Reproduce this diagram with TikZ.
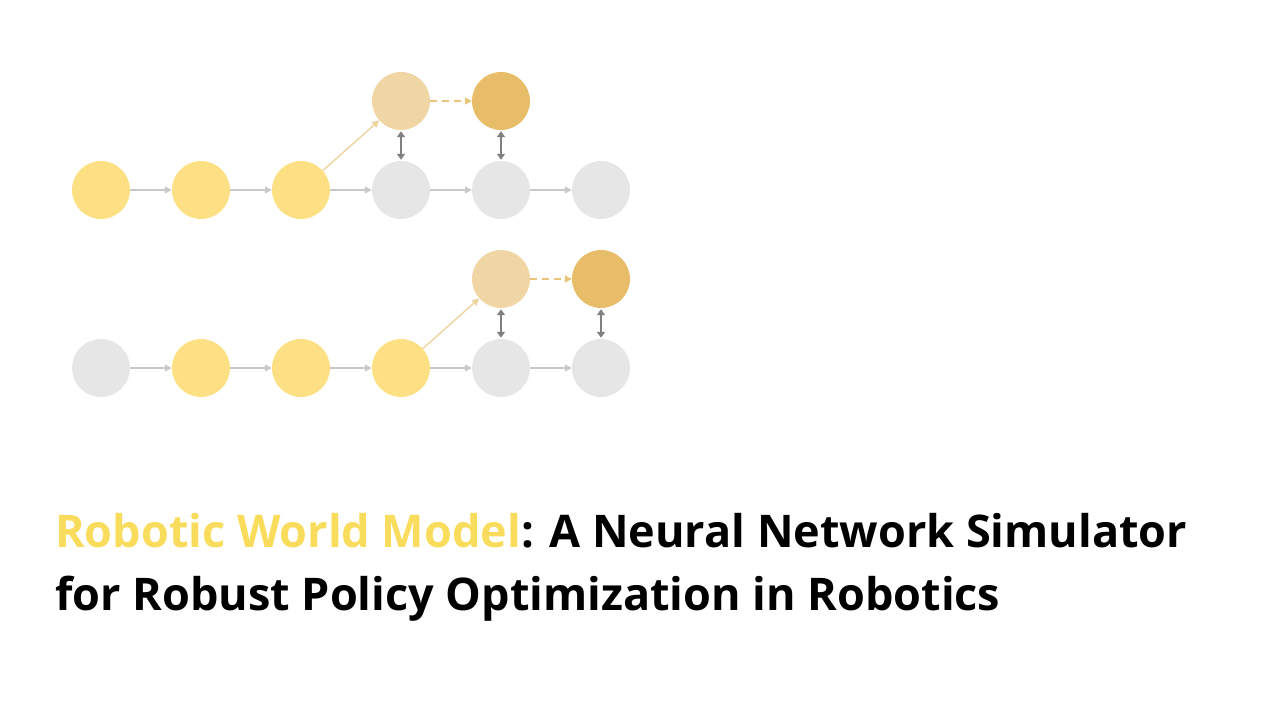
\documentclass[tikz,border=0pt]{standalone}
\usepackage{fontspec}
\setmainfont{Open Sans}
\usetikzlibrary{arrows.meta}
\definecolor{ny}{HTML}{FDE084}
\definecolor{nt}{HTML}{F0D6A4}
\definecolor{nd}{HTML}{E8BD6A}
\definecolor{ng}{HTML}{E6E6E6}
\definecolor{ag}{HTML}{C8C8C8}
\definecolor{ad}{HTML}{808080}
\definecolor{at}{HTML}{EDD49E}
\definecolor{ah}{HTML}{E8C57A}
\definecolor{ty}{HTML}{F9DC5C}
\tikzset{
  circ/.style={circle, minimum size=58pt, inner sep=0pt, draw=none},
  cy/.style={circ, fill=ny},
  ct/.style={circ, fill=nt},
  cd/.style={circ, fill=nd},
  cg/.style={circ, fill=ng},
  flow/.style={draw=ag, line width=1.4pt, -{Triangle[length=7pt,width=7pt]}},
  dbl/.style={draw=ad, line width=2.2pt, {Triangle[length=6pt,width=8pt]}-{Triangle[length=6pt,width=8pt]}, shorten <=1pt, shorten >=1pt},
  diag/.style={draw=at, line width=1.4pt, -{Triangle[length=7pt,width=7pt]}},
  dsh/.style={draw=ah, line width=1.6pt, dash pattern=on 7pt off 5pt, -{Triangle[length=7pt,width=7pt]}},
  title/.style={anchor=base west, inner sep=0pt, font=\bfseries\fontsize{45}{54}\selectfont}
}
\begin{document}
\begin{tikzpicture}[x=1pt,y=-1pt]
\useasboundingbox (0,0) rectangle (1280,720);
% row 1
\node[cy] (a1) at (101,190) {};
\node[cy] (a2) at (201,190) {};
\node[cy] (a3) at (301,190) {};
\node[cg] (a4) at (401,190) {};
\node[cg] (a5) at (501,190) {};
\node[cg] (a6) at (601,190) {};
\node[ct] (t1) at (401,101) {};
\node[cd] (t2) at (501,101) {};
\draw[flow] (a1) -- (a2);
\draw[flow] (a2) -- (a3);
\draw[flow] (a3) -- (a4);
\draw[flow] (a4) -- (a5);
\draw[flow] (a5) -- (a6);
\draw[diag] (a3) -- (t1);
\draw[dsh] (t1) -- (t2);
\draw[dbl] (t1) -- (a4);
\draw[dbl] (t2) -- (a5);
% row 2
\node[cg] (b1) at (101,368) {};
\node[cy] (b2) at (201,368) {};
\node[cy] (b3) at (301,368) {};
\node[cy] (b4) at (401,368) {};
\node[cg] (b5) at (501,368) {};
\node[cg] (b6) at (601,368) {};
\node[ct] (u1) at (501,279) {};
\node[cd] (u2) at (601,279) {};
\draw[flow] (b1) -- (b2);
\draw[flow] (b2) -- (b3);
\draw[flow] (b3) -- (b4);
\draw[flow] (b4) -- (b5);
\draw[flow] (b5) -- (b6);
\draw[diag] (b4) -- (u1);
\draw[dsh] (u1) -- (u2);
\draw[dbl] (u1) -- (b5);
\draw[dbl] (u2) -- (b6);
% title
\node[title] (l1) at (55,547) {\textcolor{ty}{Robotic World Model}: A Neural Network Simulator};
\node[title] (l2) at (55,610) {for Robust Policy Optimization in Robotics};
\end{tikzpicture}
\end{document}
